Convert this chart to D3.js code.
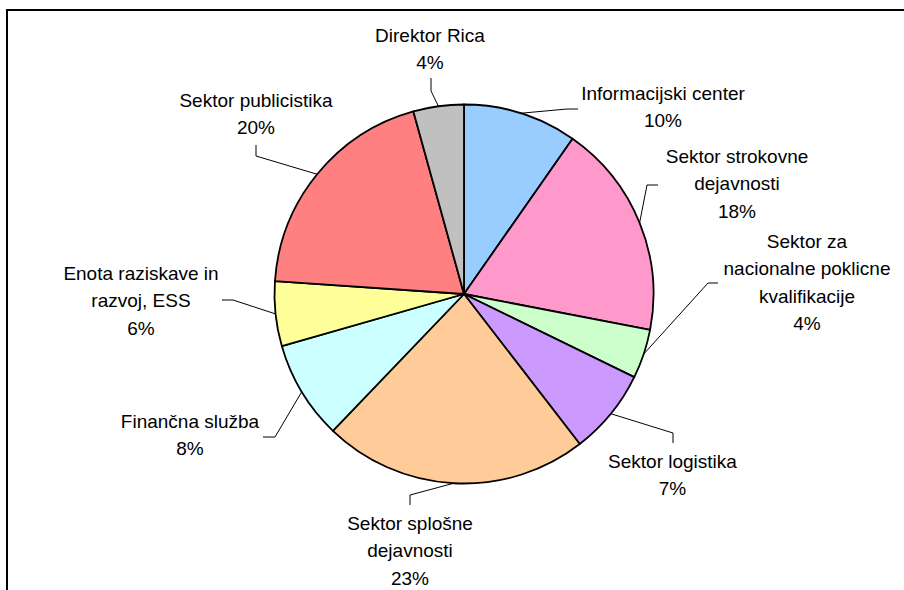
<!DOCTYPE html>
<html>
<head>
<meta charset="utf-8">
<script src="https://cdn.jsdelivr.net/npm/d3@7"></script>
<style>
  html, body { margin: 0; padding: 0; background: #fff; overflow: hidden; }
  svg { display: block; }
</style>
</head>
<body>
<svg id="chart" width="904" height="590"></svg>
<script>
// ---- data ----
const categories = [
  "Informacijski center",
  "Sektor strokovne dejavnosti",
  "Sektor za nacionalne poklicne kvalifikacije",
  "Sektor logistika",
  "Sektor splošne dejavnosti",
  "Finančna služba",
  "Enota raziskave in razvoj, ESS",
  "Sektor publicistika",
  "Direktor Rica"
];
const values = [9.7, 18.3, 4.2, 7.3, 22.6, 8.4, 5.5, 19.6, 4.3];
const labelLines = [
  ["Informacijski center"],
  ["Sektor strokovne", "dejavnosti"],
  ["Sektor za", "nacionalne poklicne", "kvalifikacije"],
  ["Sektor logistika"],
  ["Sektor splošne", "dejavnosti"],
  ["Finančna služba"],
  ["Enota raziskave in", "razvoj, ESS"],
  ["Sektor publicistika"],
  ["Direktor Rica"]
];
const colors = ["#99CCFF", "#FF99CC", "#CCFFCC", "#CC99FF", "#FFCC99", "#CCFFFF", "#FFFF99", "#FF8080", "#C0C0C0"];

// ---- layout (label placement, leader elbows) ----
const labelPos = [[663, 99.5], [737, 163], [807, 248], [672.5, 468], [410, 530], [190, 428], [141, 280], [256, 106.5], [430, 41.5]];
const leaderPts = [
  [[567, 109], [578, 109]],
  [[647, 185], [658, 185]],
  [[708, 283], [718, 283]],
  [[673, 433], [673, 443]],
  [[410, 495], [410, 505]],
  [[275, 437], [263, 437]],
  [[233, 300], [222, 300]],
  [[256, 156], [256, 145]],
  [[431, 91], [431, 78]]
];

const svg = d3.select("#chart");
const cx = 464, cy = 294, r = 189.5;
const lineH = 27.3;

// frame
svg.append("rect")
  .attr("x", 7).attr("y", 10)
  .attr("width", 1200).attr("height", 1200)
  .attr("fill", "none").attr("stroke", "#000").attr("stroke-width", 2);

const total = d3.sum(values);
const pie = d3.pie().sort(null).value(d => d)(values);
const arc = d3.arc().innerRadius(0).outerRadius(r);

const g = svg.append("g").attr("transform", `translate(${cx},${cy})`);
g.selectAll("path.slice")
  .data(pie)
  .join("path")
  .attr("class", "slice")
  .attr("d", arc)
  .attr("fill", (d, i) => colors[i])
  .attr("stroke", "#000")
  .attr("stroke-width", 1.8)
  .attr("stroke-linejoin", "round");

// leader lines
const line = d3.line();
pie.forEach((d, i) => {
  const a = (d.startAngle + d.endAngle) / 2;
  const start = [cx + r * Math.sin(a), cy - r * Math.cos(a)];
  svg.append("path")
    .attr("d", line([start, ...leaderPts[i]]))
    .attr("fill", "none")
    .attr("stroke", "#000")
    .attr("stroke-width", 1);
});

// labels
pie.forEach((d, i) => {
  const pct = Math.round(values[i] / total * 100) + "%";
  const lines = [...labelLines[i], pct];
  const t = svg.append("text")
    .attr("x", labelPos[i][0])
    .attr("y", labelPos[i][1])
    .attr("text-anchor", "middle")
    .attr("font-family", "'Liberation Sans', Arial, sans-serif")
    .attr("font-size", 19)
    .attr("fill", "#000");
  lines.forEach((s, k) => {
    t.append("tspan")
      .attr("x", labelPos[i][0])
      .attr("y", labelPos[i][1] + k * lineH)
      .text(s);
  });
});
</script>
</body>
</html>
